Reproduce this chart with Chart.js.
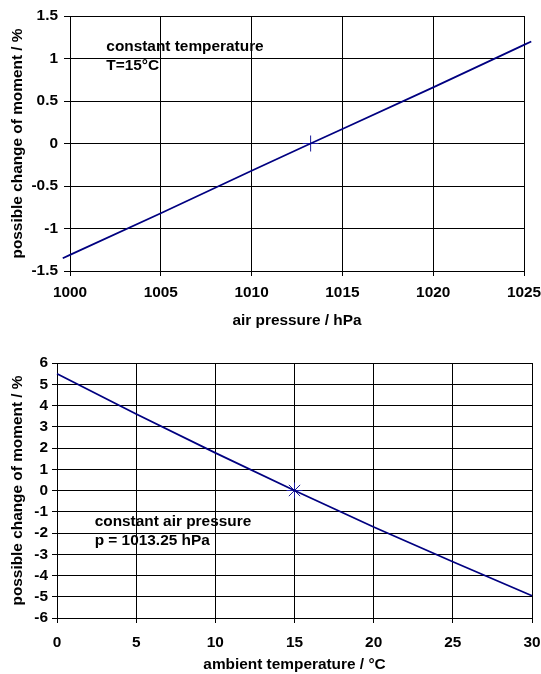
<!DOCTYPE html>
<html><head><meta charset="utf-8">
<script src="https://cdn.jsdelivr.net/npm/chart.js@4"></script>
<style>
html,body{margin:0;padding:0;background:#fff;}
#wrap{position:relative;width:541px;height:674px;overflow:hidden;}
canvas{position:absolute;left:0;}
</style></head><body>
<div id="wrap">
<canvas id="c1" width="541" height="335" style="top:0px"></canvas>
<canvas id="c2" width="541" height="339" style="top:335px"></canvas>
</div>
<script>
// ---- data: top chart (constant temperature) ----
const pressure = [999.6, 1000, 1005, 1010, 1013.25, 1015, 1020, 1025, 1025.4];
const momentByPressure = [-1.35, -1.31, -0.82, -0.32, 0, 0.17, 0.66, 1.16, 1.20];
const refPressure = [1013.25];
const refPressureMoment = [0];
const pressureTicks = [1000, 1005, 1010, 1015, 1020, 1025];
const pressureMomentTicks = [-1.5, -1, -0.5, 0, 0.5, 1, 1.5];
const notesTop = ['constant temperature', 'T=15°C'];

// ---- data: bottom chart (constant air pressure) ----
const temperature = [0, 5, 10, 15, 20, 25, 30];
const momentByTemperature = [5.49, 3.60, 1.77, 0, -1.72, -3.35, -4.95];
const refTemperature = [15];
const refTemperatureMoment = [0];
const temperatureTicks = [0, 5, 10, 15, 20, 25, 30];
const temperatureMomentTicks = [-6, -5, -4, -3, -2, -1, 0, 1, 2, 3, 4, 5, 6];
const notesBottom = ['constant air pressure', 'p = 1013.25 hPa'];

const yTitle = 'possible change of moment / %';
const FONT = {family: '"Liberation Sans", Arial, sans-serif', size: 15.4, weight: 'bold'};
Chart.defaults.color = '#000';
Chart.defaults.font = FONT;

const notesPlugin = {
  id: 'notes',
  afterDatasetsDraw(chart, args, opts) {
    const {ctx, scales} = chart;
    ctx.save();
    ctx.font = 'bold 15.4px "Liberation Sans", Arial, sans-serif';
    ctx.fillStyle = '#000';
    ctx.textAlign = 'left';
    ctx.textBaseline = 'alphabetic';
    opts.lines.forEach((t, i) => {
      ctx.fillText(t, scales.x.getPixelForValue(opts.x), scales.y.getPixelForValue(opts.y[i]));
    });
    ctx.restore();
  }
};

function pts(xs, ys) { return xs.map((x, i) => ({x, y: ys[i]})); }

function build(id, o) {
  return new Chart(document.getElementById(id), {
    type: 'scatter',
    data: {
      datasets: [
        {data: pts(o.xs, o.ys), showLine: true, borderColor: '#000080', borderWidth: 1.75,
         pointRadius: 0, clip: false, tension: 0},
        {data: pts(o.mx, o.my), showLine: false, pointStyle: o.marker, pointRadius: 8,
         borderColor: '#1a1a99', borderWidth: 1, backgroundColor: 'transparent', clip: false}
      ]
    },
    options: {
      responsive: false, animation: false, events: [], devicePixelRatio: 1,
      layout: {padding: o.pad},
      plugins: {legend: {display: false}, tooltip: {enabled: false}, notes: o.notes},
      scales: {
        x: {
          type: 'linear',
          afterDataLimits: s => { s.min = o.xmin; s.max = o.xmax; },
          afterBuildTicks: s => { s.ticks = o.xt.map(v => ({value: v})); },
          afterFit: s => { s.height = o.xh; s.paddingLeft = 0; s.paddingRight = 0; },
          ticks: {autoSkip: false, maxRotation: 0, padding: o.xtp, callback: v => String(v), font: FONT, color: '#000'},
          grid: {color: '#000', lineWidth: 1, tickLength: 5, drawTicks: true},
          border: {color: '#000', width: 1},
          title: {display: true, text: o.xtitle, font: FONT, color: '#000', padding: {top: 0, bottom: o.xtpb}}
        },
        y: {
          type: 'linear', min: o.ymin, max: o.ymax,
          afterBuildTicks: s => { s.ticks = o.yt.map(v => ({value: v})); },
          afterFit: s => { s.width = o.yw; s.paddingTop = 0; s.paddingBottom = 0; },
          ticks: {autoSkip: false, padding: o.ytp, callback: v => String(v), font: FONT, color: '#000'},
          grid: {color: '#000', lineWidth: 1, tickLength: o.ytl, drawTicks: true},
          border: {color: '#000', width: 1},
          title: {display: true, text: yTitle, font: FONT, color: '#000', padding: {top: 8.3, bottom: 0}}
        }
      }
    },
    plugins: [notesPlugin]
  });
}

build('c1', {
  xs: pressure, ys: momentByPressure, mx: refPressure, my: refPressureMoment, marker: 'cross',
  xmin: 1000, xmax: 1025, ymin: -1.5, ymax: 1.5, xt: pressureTicks, yt: pressureMomentTicks,
  pad: {top: 16, right: 17, left: 0, bottom: 0}, xh: 64, yw: 70, xtp: 8, ytp: 6, ytl: 6, xtpb: 5,
  xtitle: 'air pressure / hPa',
  notes: {lines: notesTop, x: 1002.0, y: [1.086, 0.87]}
});

build('c2', {
  xs: temperature, ys: momentByTemperature, mx: refTemperature, my: refTemperatureMoment, marker: 'star',
  xmin: 0, xmax: 30, ymin: -6, ymax: 6, xt: temperatureTicks, yt: temperatureMomentTicks,
  pad: {top: 28, right: 9, left: 0, bottom: 0}, xh: 56, yw: 57, xtp: 11, ytp: 4, ytl: 5, xtpb: 0,
  xtitle: 'ambient temperature / °C',
  notes: {lines: notesBottom, x: 2.38, y: [-1.67, -2.55]}
});
</script>
</body></html>
